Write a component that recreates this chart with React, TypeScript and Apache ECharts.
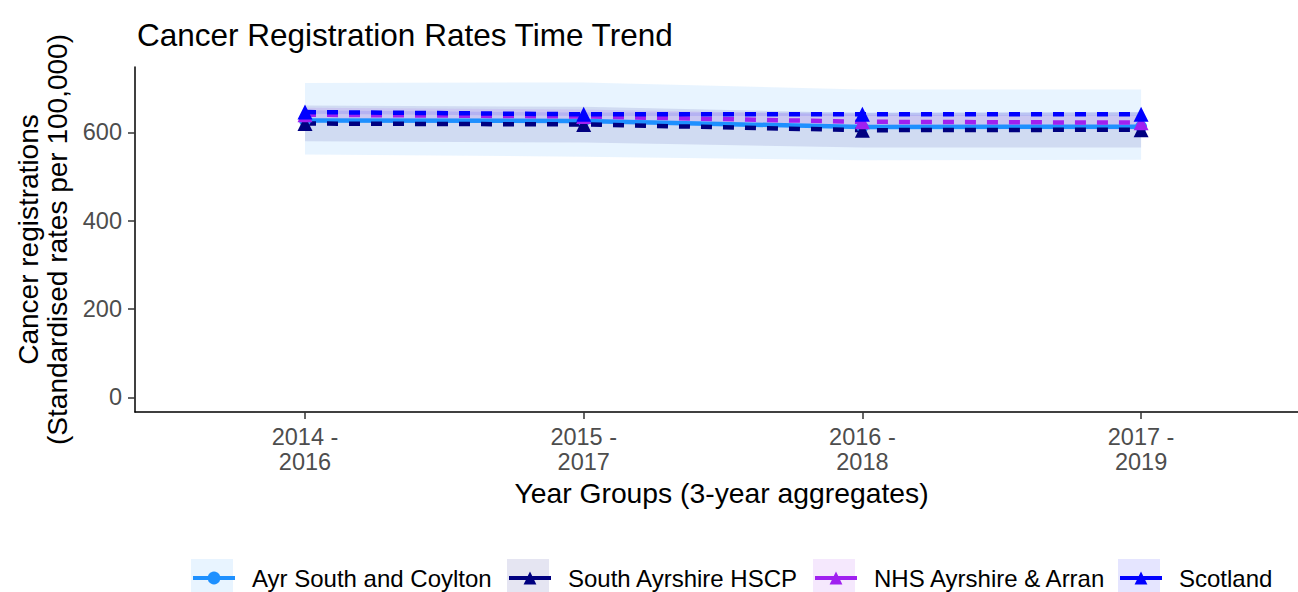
import React, { useEffect, useRef } from "react";
import * as echarts from "echarts";

const categories = ["2014 -\n2016", "2015 -\n2017", "2016 -\n2018", "2017 -\n2019"];
const seriesNames = ["Ayr South and Coylton", "South Ayrshire HSCP", "NHS Ayrshire & Arran", "Scotland"];

const ayrRate = [627, 626, 612, 613];
const ayrLower = [550, 545, 537, 538];
const ayrUpper = [712, 713, 697, 697];

const hscpRate = [620, 618, 605, 606];
const hscpLower = [580, 577, 566, 566];
const hscpUpper = [661, 658, 644, 646];

const nhsRate = [640, 636, 624, 622];
const nhsLower = [624, 620, 608, 606];
const nhsUpper = [656, 652, 640, 638];

const scotRate = [646, 641, 641, 641];
const scotLower = [642, 637, 637, 637];
const scotUpper = [650, 645, 645, 645];

const yTicks = [0, 200, 400, 600];
const xTicks = [1, 2, 3, 4];

const colors = ["#1E90FF", "#000080", "#A020F0", "#0000FF"];
const fills = [
  "rgba(30,144,255,0.1)",
  "rgba(0,0,128,0.1)",
  "rgba(160,32,240,0.1)",
  "rgba(0,0,255,0.1)",
];
const legendLefts = [191, 507, 813, 1118];

const FONT = "'Liberation Sans', Arial, Helvetica, sans-serif";

function ribbon(name: string, lower: number[], upper: number[], fill: string) {
  return {
    type: "custom",
    name: name + " interval",
    silent: true,
    z: 1,
    data: lower.map((lo, i) => [i + 1, lo, upper[i]]),
    encode: { x: 0, y: [1, 2] },
    renderItem: (params: any, api: any) => {
      if (params.dataIndex !== 0) return null;
      const top = upper.map((u, i) => api.coord([i + 1, u]));
      const bottom = lower.map((l, i) => api.coord([i + 1, l])).reverse();
      return {
        type: "polygon",
        shape: { points: top.concat(bottom) },
        style: { fill },
      };
    },
  };
}

function lineSeries(idx: number, values: number[], symbol: string, dashed: boolean) {
  return {
    type: "line",
    name: seriesNames[idx],
    z: 3,
    data: values.map((v, i) => [i + 1, v]),
    symbol,
    symbolSize: symbol === "circle" ? 12 : 15,
    showSymbol: true,
    color: colors[idx],
    itemStyle: { color: colors[idx] },
    lineStyle: { color: colors[idx], width: 4.5, type: dashed ? [11, 11] : "solid", cap: "butt" },
  };
}

export default function App() {
  const ref = useRef<HTMLDivElement>(null);
  useEffect(() => {
    document.body.style.margin = "0";
    if (!ref.current) return;
    const chart = echarts.init(ref.current, null, { renderer: "svg" });
    const option: any = {
      animation: false,
      textStyle: { fontFamily: FONT },
      title: {
        text: "Cancer Registration Rates Time Trend",
        left: 132,
        top: 14,
        textStyle: { fontSize: 31.5, fontWeight: "normal", color: "#000", fontFamily: FONT },
      },
      grid: { left: 135, right: 0, top: 67, bottom: 180, containLabel: false },
      xAxis: {
        type: "value",
        min: 0.39,
        max: 4.563,
        name: "Year Groups (3-year aggregates)",
        nameLocation: "middle",
        nameGap: 67,
        nameTextStyle: { fontSize: 28.3, color: "#000", fontFamily: FONT, padding: [0, 0, 0, 10] },
        axisLine: { show: true, onZero: false, lineStyle: { color: "#000", width: 1.5 } },
        axisTick: { show: true, customValues: xTicks, length: 7, lineStyle: { color: "#333", width: 1.5 } },
        axisLabel: {
          customValues: xTicks,
          formatter: (v: number) => categories[Math.round(v) - 1] ?? "",
          fontSize: 23.5,
          lineHeight: 25,
          color: "#4D4D4D",
          margin: 12,
          fontFamily: FONT,
        },
        splitLine: { show: false },
      },
      yAxis: {
        type: "value",
        min: -33,
        max: 748,
        name: "Cancer registrations\n(Standardised rates per 100,000)",
        nameLocation: "middle",
        nameGap: 63,
        nameTextStyle: { fontSize: 28, lineHeight: 29, color: "#000", fontFamily: FONT },
        axisLine: { show: true, onZero: false, lineStyle: { color: "#000", width: 1.5 } },
        axisTick: { show: true, customValues: yTicks, length: 7, lineStyle: { color: "#333", width: 1.5 } },
        axisLabel: {
          customValues: yTicks,
          fontSize: 23.5,
          color: "#4D4D4D",
          margin: 13,
          fontFamily: FONT,
        },
        splitLine: { show: false },
      },
      legend: seriesNames.map((n, i) => ({
        data: [n],
        left: legendLefts[i],
        top: 566,
        padding: 0,
        itemWidth: 42,
        itemHeight: 16,
        selectedMode: false,
        lineStyle: { type: "solid", width: 4 },
        textStyle: { fontSize: 24, color: "#000", padding: [0, 0, 0, 12], fontFamily: FONT },
      })),
      graphic: legendLefts.map((x, i) => ({
        type: "rect",
        left: x,
        top: 559,
        z: -1,
        shape: { width: 42, height: 36 },
        style: { fill: fills[i] },
        silent: true,
      })),
      series: [
        ribbon(seriesNames[0], ayrLower, ayrUpper, fills[0]),
        ribbon(seriesNames[1], hscpLower, hscpUpper, fills[1]),
        ribbon(seriesNames[2], nhsLower, nhsUpper, fills[2]),
        ribbon(seriesNames[3], scotLower, scotUpper, fills[3]),
        lineSeries(0, ayrRate, "circle", false),
        lineSeries(1, hscpRate, "triangle", true),
        lineSeries(2, nhsRate, "triangle", true),
        lineSeries(3, scotRate, "triangle", true),
      ],
    };
    chart.setOption(option);
    return () => chart.dispose();
  }, []);
  return <div ref={ref} style={{ width: 1298, height: 592 }} />;
}
